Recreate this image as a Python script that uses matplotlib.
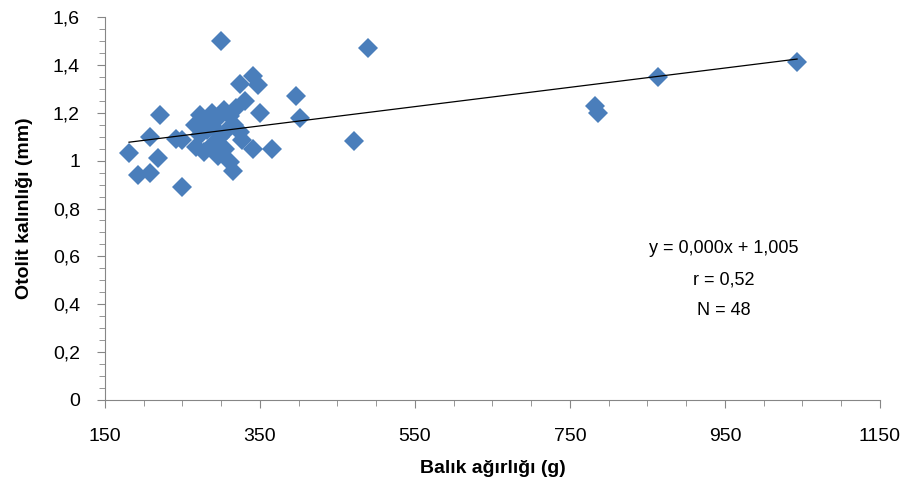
import matplotlib
matplotlib.use("Agg")
import matplotlib.pyplot as plt
from matplotlib.ticker import MultipleLocator, FuncFormatter
import numpy as np

plt.rcParams['font.family'] = ['Liberation Sans', 'DejaVu Sans']

# Balık ağırlığı (g)
weight = [181, 193, 208, 208, 218, 221, 242, 249, 300, 489,
          471, 396, 402, 366, 341, 782, 786, 864, 1043, 341,
          347, 324, 331, 350, 249,
          266, 273, 282, 288, 296, 304, 311, 319, 273, 282,
          291, 298, 307, 317, 324, 267, 278, 288, 296, 305,
          311, 315, 327]
# Otolit kalınlığı (mm)
thickness = [1.03, 0.94, 0.95, 1.10, 1.01, 1.19, 1.09, 0.89, 1.50, 1.47,
             1.08, 1.27, 1.18, 1.05, 1.05, 1.23, 1.20, 1.35, 1.41, 1.355,
             1.315, 1.32, 1.25, 1.20, 1.085,
             1.15, 1.19, 1.17, 1.20, 1.18, 1.21, 1.185, 1.22, 1.105, 1.13,
             1.135, 1.10, 1.13, 1.15, 1.12, 1.055, 1.035, 1.065, 1.02, 1.05,
             0.995, 0.955, 1.085]

# trend line coefficients
slope = 0.000403
intercept = 1.004

x_ticks = [150, 350, 550, 750, 950, 1150]
eq_lines = ["y = 0,000x + 1,005", "r = 0,52", "N = 48"]

fig = plt.figure(figsize=(9.2, 4.91), dpi=100)
ax = fig.add_axes([105/920, 91/491, 775/920, 383/491])

ax.plot(weight, thickness, linestyle='none', marker='D', ms=10.5,
        color='#4A7EBB', markeredgewidth=0, zorder=2)

xl = np.array([min(weight), max(weight)])
ax.plot(xl, slope * xl + intercept, color='black', lw=0.9, zorder=3)

ax.set_xlim(150, 1150)
ax.set_ylim(0, 1.6)
ax.set_xticks(x_ticks)
ax.set_xticks(np.arange(150, 1151, 50), minor=True)
ax.yaxis.set_major_locator(MultipleLocator(0.2))
ax.yaxis.set_minor_locator(MultipleLocator(0.05))
ax.yaxis.set_major_formatter(FuncFormatter(lambda v, p: '{:g}'.format(round(v, 2)).replace('.', ',')))

for s in ['top', 'right']:
    ax.spines[s].set_visible(False)
for s in ['left', 'bottom']:
    ax.spines[s].set_color('#868686')
ax.tick_params(which='major', length=6, color='#868686', labelsize=14)
ax.tick_params(which='minor', length=4, color='#868686')
ax.tick_params(axis='x', pad=14)
ax.tick_params(axis='y', pad=12)

ax.set_xlabel('Balık ağırlığı (g)', fontsize=14, fontweight='bold', labelpad=11)
ax.set_ylabel('Otolit kalınlığı (mm)', fontsize=14, fontweight='bold', labelpad=14)

for i, t in enumerate(eq_lines):
    ax.text(0.799, 0.395 - i * 0.081, t, transform=ax.transAxes, ha='center',
            va='center', fontsize=13)

fig.savefig('out.png', dpi=100)
